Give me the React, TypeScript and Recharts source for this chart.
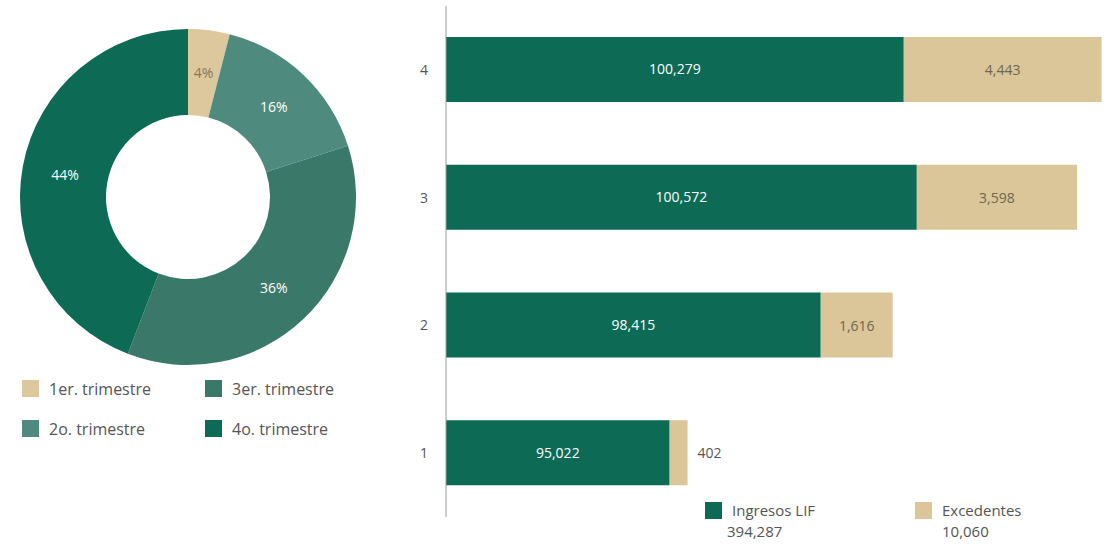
import { PieChart, Pie, Cell, BarChart, Bar, XAxis, YAxis, LabelList } from 'recharts'

// quarters, bottom to top on the bar chart
const quarters = ['1', '2', '3', '4']
const ingresosLIF = [95022, 98415, 100572, 100279]
const excedentes = [402, 1616, 3598, 4443]

const pieNames = ['1er. trimestre', '2o. trimestre', '3er. trimestre', '4o. trimestre']
const pieColors = ['#dcc89c', '#4e8b7e', '#3a7969', '#0c6a55']

const totalLIF = '394,287'
const totalExcedentes = '10,060'

const DARK = '#0c6a55'
const TAN = '#dac698'
const FONT = '"Open Sans", sans-serif'

const pieData = pieNames.map((name, i) => ({ name, value: excedentes[i] }))
const pieTotal = excedentes.reduce((a, b) => a + b, 0)

const barData = quarters.map((q, i) => ({ q, lif: ingresosLIF[i], exc: excedentes[i] }))

const RAD = Math.PI / 180

function PieLabel({ cx, cy, midAngle, innerRadius, outerRadius, value, index }: any) {
  const r = (innerRadius + outerRadius) / 2
  const x = cx + r * Math.cos(-midAngle * RAD)
  const y = cy + r * Math.sin(-midAngle * RAD)
  return (
    <text
      x={x}
      y={y}
      textAnchor="middle"
      dominantBaseline="central"
      fill={index === 0 ? '#8a7560' : '#ffffff'}
      fontSize={14}
      fontFamily={FONT}
    >
      {`${Math.round((value / pieTotal) * 100)}%`}
    </text>
  )
}

function ExcLabel({ x, y, width, height, value }: any) {
  const small = width < 30
  return (
    <text
      x={small ? x + width + 10 : x + width / 2}
      y={y + height / 2}
      textAnchor={small ? 'start' : 'middle'}
      dominantBaseline="central"
      fill={small ? '#555555' : '#6e6650'}
      fontSize={14}
      fontFamily={FONT}
    >
      {Number(value).toLocaleString('en-US')}
    </text>
  )
}

const sq = (color: string) => ({
  display: 'inline-block',
  width: 17,
  height: 17,
  background: color,
  marginRight: 10,
  verticalAlign: 'middle',
})

export default function App() {
  return (
    <div
      style={{
        position: 'absolute',
        left: 0,
        top: 0,
        width: 1111,
        height: 556,
        overflow: 'hidden',
        background: '#fff',
        fontFamily: FONT,
        color: '#555',
      }}
    >
      <div style={{ position: 'absolute', left: 0, top: 0 }}>
        <PieChart width={380} height={375} margin={{ top: 0, right: 0, bottom: 0, left: 0 }}>
          <Pie
            data={pieData}
            dataKey="value"
            cx={188}
            cy={197}
            innerRadius={82}
            outerRadius={168}
            startAngle={90}
            endAngle={-270}
            stroke="none"
            label={PieLabel}
            labelLine={false}
            isAnimationActive={false}
          >
            {pieData.map((d, i) => (
              <Cell key={d.name} fill={pieColors[i]} />
            ))}
          </Pie>
        </PieChart>
      </div>

      {/* pie legend */}
      <div style={{ position: 'absolute', left: 22, top: 377, fontSize: 16, lineHeight: '20px' }}>
        {pieNames.map((n, i) => (
          <div
            key={n}
            style={{
              position: 'absolute',
              left: i < 2 ? 0 : 183,
              top: (i % 2) * 40,
              whiteSpace: 'nowrap',
            }}
          >
            <span style={sq(pieColors[i])} />
            <span style={{ verticalAlign: 'middle' }}>{n}</span>
          </div>
        ))}
      </div>

      <div style={{ position: 'absolute', left: 380, top: 0 }}>
        <BarChart
          width={736}
          height={520}
          data={barData}
          layout="vertical"
          margin={{ top: 6, right: 2, bottom: 3, left: 0 }}
          barSize={65}
        >
          <XAxis type="number" hide domain={[90000, 105000]} allowDataOverflow />
          <YAxis
            type="category"
            dataKey="q"
            reversed
            width={66}
            tickLine={false}
            axisLine={{ stroke: '#9a9a9a' }}
            tickMargin={12}
            tick={{ fill: '#555', fontSize: 14, fontFamily: FONT }}
          />
          <Bar dataKey="lif" stackId="a" fill={DARK} isAnimationActive={false}>
            <LabelList
              dataKey="lif"
              position="center"
              fill="#ffffff"
              fontSize={14}
              fontFamily={FONT}
              formatter={(v: any) => Number(v).toLocaleString('en-US')}
            />
          </Bar>
          <Bar dataKey="exc" stackId="a" fill={TAN} isAnimationActive={false}>
            <LabelList dataKey="exc" content={ExcLabel} />
          </Bar>
        </BarChart>
      </div>

      {/* bar legend */}
      <div style={{ position: 'absolute', left: 705, top: 499, fontSize: 15, lineHeight: '21px' }}>
        <span style={sq(DARK)} />
        <span style={{ verticalAlign: 'middle' }}>Ingresos LIF</span>
        <div style={{ marginLeft: 22 }}>{totalLIF}</div>
      </div>
      <div style={{ position: 'absolute', left: 915, top: 499, fontSize: 15, lineHeight: '21px' }}>
        <span style={sq(TAN)} />
        <span style={{ verticalAlign: 'middle' }}>Excedentes</span>
        <div style={{ marginLeft: 27 }}>{totalExcedentes}</div>
      </div>
    </div>
  )
}
